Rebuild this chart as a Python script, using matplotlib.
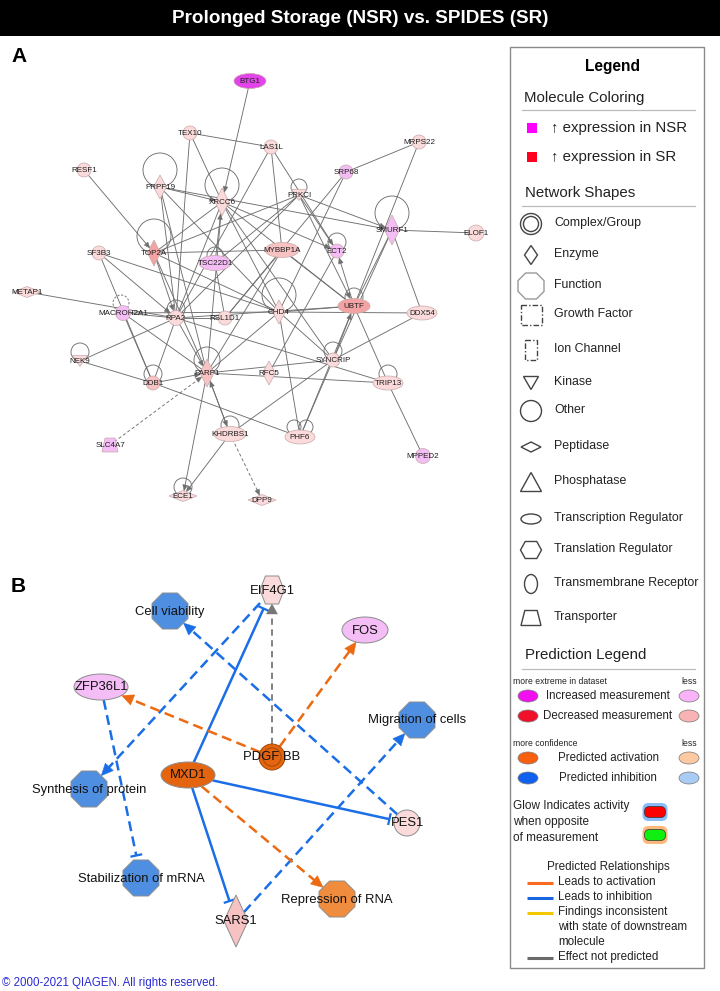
import numpy as np
import matplotlib
matplotlib.use("Agg")
import matplotlib.pyplot as plt
from matplotlib.patches import Ellipse, Polygon, Rectangle, RegularPolygon, FancyBboxPatch

plt.rcParams['font.family'] = ['Liberation Sans', 'DejaVu Sans']

TITLE = "Prolonged Storage (NSR) vs. SPIDES (SR)"
COPYRIGHT = "\u00a9 2000-2021 QIAGEN. All rights reserved."

# ---------------- Panel A: network ----------------
a_names = ["BTG1", "TEX10", "LAS1L", "RESF1", "MRPS22", "SRP68", "PRPF19", "XRCC6",
           "PRKCI", "SMURF1", "ELOF1", "SF3B3", "TOP2A", "TSC22D1", "MYBBP1A", "ECT2",
           "METAP1", "MACROH2A1", "RPA2", "RSL1D1", "CHD4", "UBTF", "DDX54", "NEK9",
           "DDB1", "PARP1", "RFC5", "SYNCRIP", "TRIP13", "KHDRBS1", "PHF6", "SLC4A7",
           "MPPED2", "ECE1", "DPP9"]
a_x = [250, 190, 271, 84, 419, 346, 160, 222, 299, 392, 476, 99, 154, 215, 282, 337,
       27, 123, 176, 225, 279, 354, 422, 80, 153, 207, 269, 333, 388, 230, 300, 110,
       423, 183, 262]
a_y = [81, 133, 147, 170, 142, 172, 187, 202, 195, 230, 233, 253, 253, 263, 250, 251,
       292, 313, 318, 318, 312, 306, 313, 361, 383, 373, 373, 360, 383, 434, 437, 445,
       456, 496, 500]
a_type = ["ellipse", "circle", "circle", "circle", "circle", "circle", "diamond", "diamond",
          "kinase", "diamond", "circle", "circle", "diamond", "ellipse", "ellipse", "circle",
          "peptidase", "circle", "circle", "circle", "diamond", "ellipse", "ellipse", "kinase",
          "circle", "diamond", "diamond", "circle", "ellipse", "ellipse", "ellipse", "transporter",
          "circle", "peptidase", "peptidase"]
# expression tone: NSR2 strong up in NSR, NSR1 weak up in NSR, SR0 faint up in SR, SR1, SR2
a_expr = ["NSR2", "SR0", "SR0", "SR0", "SR0", "NSR1", "SR0", "SR0",
          "SR0", "NSR1", "SR0", "SR0", "SR2", "NSR1", "SR1", "NSR1",
          "SR0", "NSR1", "SR0", "SR0", "SR0", "SR2", "SR0", "SR0",
          "SR1", "SR1", "SR0", "SR0", "SR0", "SR0", "SR0", "NSR1",
          "NSR1", "SR0", "SR0"]
a_selfloop = [0, 0, 0, 0, 0, 0, 17, 17, 8, 17, 0, 0, 17, 8, 0, 9,
              0, 8, 9, 0, 17, 9, 0, 9, 9, 13, 0, 9, 9, 9, 7, 0, 0, 9, 0]
a_edges = [
    ("BTG1", "XRCC6", "a"), ("TEX10", "LAS1L", "s"), ("TEX10", "XRCC6", "s"),
    ("TEX10", "RPA2", "s"), ("RESF1", "TOP2A", "a"), ("PRPF19", "SMURF1", "a"),
    ("PRPF19", "XRCC6", "a"), ("PRPF19", "RPA2", "s"), ("PRPF19", "CHD4", "s"),
    ("PRPF19", "PARP1", "s"), ("XRCC6", "TOP2A", "s"), ("XRCC6", "RPA2", "s"),
    ("XRCC6", "CHD4", "s"), ("XRCC6", "ECT2", "a"), ("XRCC6", "SYNCRIP", "s"),
    ("XRCC6", "PARP1", "s"), ("TSC22D1", "XRCC6", "a"), ("LAS1L", "MYBBP1A", "s"),
    ("LAS1L", "ECT2", "s"), ("LAS1L", "RPA2", "s"), ("MRPS22", "SRP68", "s"),
    ("MRPS22", "UBTF", "s"), ("SRP68", "CHD4", "s"), ("SRP68", "RSL1D1", "s"),
    ("PRKCI", "SMURF1", "a"), ("PRKCI", "ECT2", "a"), ("PRKCI", "UBTF", "a"),
    ("PRKCI", "TOP2A", "s"), ("PRKCI", "RPA2", "s"), ("PRKCI", "TSC22D1", "s"),
    ("SMURF1", "ELOF1", "s"), ("SMURF1", "DDX54", "s"), ("SMURF1", "UBTF", "s"),
    ("SMURF1", "SYNCRIP", "s"), ("SF3B3", "CHD4", "s"), ("SF3B3", "DDB1", "s"),
    ("SF3B3", "RPA2", "a"), ("TOP2A", "MYBBP1A", "s"), ("TOP2A", "RPA2", "a"),
    ("TOP2A", "PARP1", "s"), ("TOP2A", "CHD4", "s"), ("METAP1", "RPA2", "s"),
    ("MACROH2A1", "CHD4", "s"), ("MACROH2A1", "RPA2", "s"), ("MACROH2A1", "PARP1", "s"),
    ("MACROH2A1", "DDB1", "s"), ("RPA2", "RSL1D1", "s"), ("RPA2", "PARP1", "a"),
    ("RPA2", "NEK9", "s"), ("RPA2", "DDB1", "s"), ("RPA2", "UBTF", "s"),
    ("RPA2", "TRIP13", "s"), ("CHD4", "UBTF", "s"), ("CHD4", "DDX54", "s"),
    ("CHD4", "PARP1", "s"), ("CHD4", "PHF6", "s"), ("CHD4", "SYNCRIP", "s"),
    ("UBTF", "ECT2", "a"), ("SYNCRIP", "UBTF", "a"), ("UBTF", "TRIP13", "s"),
    ("UBTF", "PHF6", "s"), ("DDX54", "SYNCRIP", "s"), ("NEK9", "DDB1", "s"),
    ("DDB1", "PARP1", "a"), ("DDB1", "PHF6", "s"), ("KHDRBS1", "PARP1", "a"),
    ("PARP1", "KHDRBS1", "a"), ("PARP1", "ECE1", "a"), ("PARP1", "SYNCRIP", "s"),
    ("SLC4A7", "PARP1", "d"), ("KHDRBS1", "ECE1", "a"), ("KHDRBS1", "DPP9", "d"),
    ("KHDRBS1", "SYNCRIP", "s"), ("SYNCRIP", "PHF6", "s"), ("TRIP13", "MPPED2", "s"),
    ("RFC5", "ECT2", "s"), ("RSL1D1", "MYBBP1A", "s"), ("MYBBP1A", "UBTF", "s"),
    ("MYBBP1A", "PARP1", "s"), ("TSC22D1", "RSL1D1", "s"), ("PARP1", "TRIP13", "s"),
    ("XRCC6", "UBTF", "s"),
]

# ---------------- Panel B: predicted network ----------------
b_names = ["EIF4G1", "Cell viability", "FOS", "ZFP36L1", "Migration of cells", "PDGF BB",
           "MXD1", "Synthesis of protein", "PES1", "Stabilization of mRNA", "SARS1",
           "Repression of RNA"]
b_x = [272, 170, 365, 101, 417, 272, 188, 89, 407, 141, 236, 337]
b_y = [590, 611, 630, 687, 720, 757, 775, 789, 823, 878, 921, 899]
b_type = ["translation", "function", "ellipse", "ellipse", "function", "complex",
          "ellipse", "function", "circle", "function", "diamond", "function"]
b_state = ["SR0", "inhibited", "NSR1", "NSR1", "inhibited", "activated",
           "activated", "inhibited", "SR0", "inhibited", "SR1", "activated_low"]
b_edges = [
    ("MXD1", "EIF4G1", "inhibition", "direct"),
    ("EIF4G1", "Synthesis of protein", "inhibition_arrow", "indirect"),
    ("PDGF BB", "EIF4G1", "none", "indirect"),
    ("PDGF BB", "FOS", "activation", "indirect"),
    ("PDGF BB", "ZFP36L1", "activation", "indirect"),
    ("PES1", "Cell viability", "inhibition_arrow", "indirect"),
    ("SARS1", "Migration of cells", "inhibition_arrow", "indirect"),
    ("ZFP36L1", "Stabilization of mRNA", "inhibition", "indirect"),
    ("MXD1", "PES1", "inhibition", "direct"),
    ("MXD1", "SARS1", "inhibition", "direct"),
    ("MXD1", "Repression of RNA", "activation", "indirect"),
]

# ---------------- Legend content ----------------
shape_legend = ["Complex/Group", "Enzyme", "Function", "Growth Factor", "Ion Channel",
                "Kinase", "Other", "Peptidase", "Phosphatase", "Transcription Regulator",
                "Translation Regulator", "Transmembrane Receptor", "Transporter"]
relation_legend = ["Leads to activation", "Leads to inhibition",
                   "Findings inconsistent\nwith state of downstream\nmolecule",
                   "Effect not predicted"]

# ---------------- styles ----------------
TONE = {"NSR2": "#e244ea", "NSR1": "#f5bdf5", "SR0": "#fadada", "SR1": "#f7c2c2",
        "SR2": "#f3a3a3", "inhibited": "#4e8fe2", "activated": "#e4640f",
        "activated_low": "#f08c3e"}
A_SIZE = {"circle": (14, 14), "ellipse": (30, 14), "diamond": (13, 24), "kinase": (15, 11),
          "peptidase": (28, 11), "transporter": (16, 14)}
A_SIZE_OVR = {"BTG1": (32, 15), "ELOF1": (16, 16), "XRCC6": (14, 28), "SMURF1": (15, 30),
              "TOP2A": (13, 26), "PARP1": (14, 28), "MACROH2A1": (15, 15), "MPPED2": (15, 15),
              "TSC22D1": (32, 15), "MYBBP1A": (34, 15), "KHDRBS1": (32, 15), "RPA2": (15, 15),
              "UBTF": (32, 15)}
B_SIZE = {"EIF4G1": (24, 28), "Cell viability": (36, 36), "FOS": (46, 26), "ZFP36L1": (54, 26),
          "Migration of cells": (36, 36), "PDGF BB": (26, 26), "MXD1": (54, 26),
          "Synthesis of protein": (36, 36), "PES1": (26, 26), "Stabilization of mRNA": (36, 36),
          "SARS1": (24, 52), "Repression of RNA": (36, 36)}
BLUE = "#1a6ee6"
ORANGE = "#ec6a12"
GRAY = "#777777"
TXT = "#222222"
LEG_HEAD = 10.8
LEG_SHAPE = 8.9
LEG_SMALL = 8.4

fig = plt.figure(figsize=(7.2, 9.91), dpi=100)
ax = fig.add_axes([0, 0, 1, 1])
ax.set_xlim(0, 720)
ax.set_ylim(991, 0)
ax.axis("off")


def shape_patches(kind, x, y, w, h, fc, ec, lw=0.6, ls="-", z=3):
    a, b = w / 2.0, h / 2.0
    ps = []
    if kind in ("circle", "ellipse"):
        ps.append(Ellipse((x, y), w, h))
    elif kind == "complex":
        ps.append(Ellipse((x, y), w, h))
        ps.append(Ellipse((x, y), w * 0.7, h * 0.7, fill=False))
    elif kind in ("diamond", "peptidase"):
        ps.append(Polygon([(x, y - b), (x + a, y), (x, y + b), (x - a, y)]))
    elif kind == "kinase":
        ps.append(Polygon([(x - a, y - b), (x + a, y - b), (x, y + b)]))
    elif kind == "phosphatase":
        ps.append(Polygon([(x - a, y + b), (x + a, y + b), (x, y - b)]))
    elif kind == "transporter":
        ps.append(Polygon([(x - a * 0.62, y - b), (x + a * 0.62, y - b), (x + a, y + b), (x - a, y + b)]))
    elif kind == "function":
        ps.append(RegularPolygon((x, y), 8, radius=a / np.cos(np.pi / 8), orientation=np.pi / 8))
    elif kind == "translation":
        ps.append(Polygon([(x - a, y), (x - a * 0.55, y - b), (x + a * 0.55, y - b), (x + a, y),
                           (x + a * 0.55, y + b), (x - a * 0.55, y + b)]))
    elif kind == "rect":
        ps.append(Rectangle((x - a, y - b), w, h))
    for i, p in enumerate(ps):
        p.set_facecolor(fc if i == 0 else "none")
        p.set_edgecolor(ec)
        p.set_linewidth(lw)
        p.set_linestyle(ls)
        p.set_zorder(z)
        ax.add_patch(p)


def boundary(kind, w, h, u):
    a, b = w / 2.0, h / 2.0
    ux, uy = abs(u[0]) + 1e-9, abs(u[1]) + 1e-9
    if kind in ("circle", "ellipse", "complex", "function"):
        return a * b / np.hypot(b * ux, a * uy)
    if kind in ("diamond", "peptidase"):
        return 1.0 / (ux / a + uy / b)
    return min(a / ux, b / uy)


def draw_edge(p, q, r0, r1, color, lw, dashes, head, hl, hw, gap=0.0, z=2):
    p = np.asarray(p, float)
    q = np.asarray(q, float)
    d = q - p
    u = d / np.hypot(*d)
    n = np.array([-u[1], u[0]])
    s = p + u * r0
    e = q - u * (r1 + gap)
    le = e - u * hl * 0.8 if head == "arrow" else e
    kw = dict(color=color, lw=lw, solid_capstyle="butt", zorder=z)
    if dashes:
        kw["dashes"] = dashes
    ax.plot([s[0], le[0]], [s[1], le[1]], **kw)
    if head == "arrow":
        tri = [e, e - u * hl + n * hw, e - u * hl - n * hw]
        ax.add_patch(Polygon(tri, closed=True, fc=color, ec=color, lw=0.3, zorder=z))
    elif head == "bar":
        ax.plot([e[0] + n[0] * hw, e[0] - n[0] * hw], [e[1] + n[1] * hw, e[1] - n[1] * hw],
                color=color, lw=lw * 0.9, zorder=z, solid_capstyle="butt")


# ---------------- title ----------------
ax.add_patch(Rectangle((0, 0), 720, 36, fc="black", ec="none", zorder=1))
ax.text(360, 18.5, TITLE, color="white", fontsize=13.6, fontweight="bold",
        family=["Liberation Sans Narrow", "Liberation Sans", "DejaVu Sans"],
        ha="center", va="center", zorder=2)
ax.text(11, 56, "A", fontsize=15, fontweight="bold", ha="left", va="center")
ax.text(11, 586, "B", fontsize=15, fontweight="bold", ha="left", va="center")

# ---------------- panel A drawing ----------------
apos = {n: (x, y) for n, x, y in zip(a_names, a_x, a_y)}
akind = dict(zip(a_names, a_type))


def asize(n):
    return A_SIZE_OVR.get(n, A_SIZE[akind[n]])


EDGE_A = "#6f6f6f"
for s, t, k in a_edges:
    p, q = apos[s], apos[t]
    d = np.subtract(q, p)
    u = d / np.hypot(*d)
    r1 = boundary(akind[t], *asize(t), u) if k in ("a", "d") else 0
    draw_edge(p, q, 0, r1, EDGE_A, 0.65, (3.5, 2.5) if k == "d" else None,
              "arrow" if k in ("a", "d") else None, 6, 2.4, z=1)

for n, x, y, r in zip(a_names, a_x, a_y, a_selfloop):
    if r <= 0:
        continue
    if n == "PHF6":
        for dx in (-6, 6):
            ax.add_patch(Ellipse((x + dx, y - 10), 2 * r, 2 * r, fill=False, ec=EDGE_A, lw=0.65, zorder=1))
    elif n == "MACROH2A1":
        ax.add_patch(Ellipse((x - 2, y - r - 2), 2 * r, 2 * r, fill=False, ec=EDGE_A, lw=0.65,
                             ls=(0, (2.5, 1.8)), zorder=1))
    else:
        ax.add_patch(Ellipse((x, y - r), 2 * r, 2 * r, fill=False, ec=EDGE_A, lw=0.65, zorder=1))

for n, x, y, k, e in zip(a_names, a_x, a_y, a_type, a_expr):
    w, h = asize(n)
    shape_patches(k, x, y, w, h, TONE[e], "#c9a9a9", lw=0.5, z=3)
    ax.text(x, y + 0.5, n, fontsize=5.8, ha="center", va="center", color="#1e1e1e", zorder=4)

# ---------------- panel B drawing ----------------
bpos = {n: (x, y) for n, x, y in zip(b_names, b_x, b_y)}
bkind = dict(zip(b_names, b_type))
for s, t, eff, cert in b_edges:
    p, q = bpos[s], bpos[t]
    d = np.subtract(q, p)
    u = d / np.hypot(*d)
    r0 = boundary(bkind[s], *B_SIZE[s], u)
    r1 = boundary(bkind[t], *B_SIZE[t], -u)
    if eff == "activation":
        col, head = ORANGE, "arrow"
    elif eff == "inhibition":
        col, head = BLUE, "bar"
    elif eff == "inhibition_arrow":
        col, head = BLUE, "arrow"
    else:
        col, head = GRAY, "arrow"
    lw = 1.3 if eff == "none" else 1.8
    dashes = (4.0, 2.2) if cert == "indirect" else None
    if eff == "none":
        dashes = (3.5, 2.5)
    gap = 5 if head == "bar" else 0
    draw_edge(p, q, r0, r1, col, lw, dashes, head, 12 if eff != "none" else 10,
              5.5 if head == "arrow" else 6, gap=gap, z=2)

for n, x, y, k, st in zip(b_names, b_x, b_y, b_type, b_state):
    w, h = B_SIZE[n]
    ec = "#a24a05" if k == "complex" else "#8c8c8c"
    shape_patches(k, x, y, w, h, TONE[st], ec, lw=0.7, z=3)
    ax.text(x, y + 0.5, n, fontsize=9.4, ha="center", va="center", color="#111111", zorder=4)

ax.text(2, 983, COPYRIGHT, fontsize=8.3, color="#2a2ad2", ha="left", va="center")

# ---------------- legend box ----------------
ax.add_patch(Rectangle((510, 47), 194, 921, fc="white", ec="#8a8a8a", lw=1.0, zorder=1))
ax.text(613, 66, "Legend", fontsize=11.2, fontweight="bold", ha="center", va="center")
ax.text(524, 98, "Molecule Coloring", fontsize=LEG_HEAD, ha="left", va="center", color=TXT)
ax.plot([522, 695], [110, 110], color="#bbbbbb", lw=0.9)
ax.add_patch(Rectangle((527, 123), 10, 10, fc="#ff00ff", ec="none"))
ax.add_patch(Rectangle((527, 152), 10, 10, fc="#ff0022", ec="none"))
ax.text(551, 128, "\u2191 expression in NSR", fontsize=LEG_HEAD, ha="left", va="center", color=TXT)
ax.text(551, 157, "\u2191 expression in SR", fontsize=LEG_HEAD, ha="left", va="center", color=TXT)
ax.text(525, 193, "Network Shapes", fontsize=LEG_HEAD, ha="left", va="center", color=TXT)
ax.plot([522, 695], [206, 206], color="#bbbbbb", lw=0.9)

shape_kinds = ["complex", "diamond", "function", "rect", "rect", "kinase", "circle",
               "peptidase", "phosphatase", "ellipse", "translation", "ellipse", "transporter"]
shape_rows = [224, 255, 286, 315, 350, 383, 411, 447, 482, 519, 550, 584, 618]
shape_dims = [(21, 21), (13, 19), (26, 26), (21, 20), (12, 20), (15, 13), (21, 21),
              (20, 10), (21, 19), (20, 10), (21, 17), (13, 19), (20, 15)]
for lab, k, yy, (w, h) in zip(shape_legend, shape_kinds, shape_rows, shape_dims):
    ls = "-"
    ec = "#444444"
    if lab in ("Growth Factor", "Ion Channel"):
        ls = (0, (4, 1.5, 1, 1.5))
    if lab == "Function":
        ec = "#9a9a9a"
    if k == "complex":
        ax.add_patch(Ellipse((531, yy), w, h, fill=False, ec=ec, lw=1.0))
        ax.add_patch(Ellipse((531, yy), w * 0.72, h * 0.72, fill=False, ec=ec, lw=1.0))
    else:
        shape_patches(k, 531, yy, w, h, "white", ec, lw=1.0, ls=ls, z=3)
    ax.text(554, yy - 1, lab, fontsize=LEG_SHAPE, ha="left", va="center", color=TXT)

ax.text(525, 655, "Prediction Legend", fontsize=LEG_HEAD, ha="left", va="center", color=TXT)
ax.plot([522, 695], [669, 669], color="#bbbbbb", lw=0.9)
ax.text(513, 681, "more extreme in dataset", fontsize=6.2, ha="left", va="center", color=TXT)
ax.text(697, 681, "less", fontsize=6.2, ha="right", va="center", color=TXT)
ax.text(513, 743, "more confidence", fontsize=6.2, ha="left", va="center", color=TXT)
ax.text(697, 743, "less", fontsize=6.2, ha="right", va="center", color=TXT)
pred_rows = [(696, "Increased measurement", "#f010f0", "#f8b2f8"),
             (716, "Decreased measurement", "#f0102a", "#f8b4b4"),
             (758, "Predicted activation", "#f86010", "#fcc9a2"),
             (778, "Predicted inhibition", "#1060f0", "#a8ccf6")]
for yy, lab, c1, c2 in pred_rows:
    ax.add_patch(Ellipse((528, yy), 20, 12, fc=c1, ec="#777", lw=0.5))
    ax.add_patch(Ellipse((689, yy), 20, 12, fc=c2, ec="#777", lw=0.5))
    ax.text(608, yy, lab, fontsize=8.3, ha="center", va="center", color=TXT)

for i, line in enumerate(["Glow Indicates activity", "when opposite", "of measurement"]):
    ax.text(513, 806 + 16 * i, line, fontsize=8.5, ha="left", va="center", color=TXT)
for yy, fc, glow in [(812, "#ff0000", "#7fb4ff"), (835, "#10f010", "#ffb070")]:
    ax.add_patch(FancyBboxPatch((645, yy - 6.5), 20, 13, boxstyle="round,pad=2.5,rounding_size=6",
                                fc=glow, ec="none", alpha=0.9))
    ax.add_patch(FancyBboxPatch((645, yy - 5), 20, 10, boxstyle="round,pad=0.5,rounding_size=5",
                                fc=fc, ec="#333", lw=0.5))

ax.text(608, 867, "Predicted Relationships", fontsize=LEG_SMALL, ha="center", va="center", color=TXT)
rel_rows = [883, 898, 913, 958]
rel_colors = ["#f86a20", "#1a66e0", "#f2c800", "#6a6a6a"]
for lab, yy, c in zip(relation_legend, rel_rows, rel_colors):
    ax.plot([527, 553], [yy, yy], color=c, lw=2.2, solid_capstyle="butt")
    for i, line in enumerate(lab.split("\n")):
        ax.text(558, yy - 1 + 15 * i, line, fontsize=LEG_SMALL, ha="left", va="center", color=TXT)

fig.savefig("out.png", dpi=100)
